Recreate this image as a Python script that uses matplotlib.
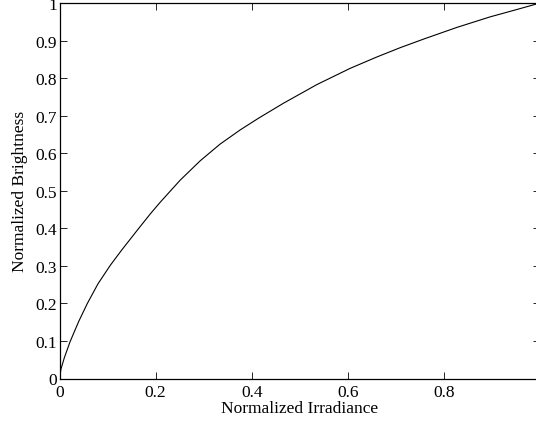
import matplotlib
matplotlib.use("Agg")
import matplotlib.pyplot as plt

irradiance = [0.0, 0.003, 0.01, 0.022, 0.04, 0.058, 0.08, 0.106, 0.13, 0.165, 0.19,
              0.21, 0.251, 0.293, 0.334, 0.376, 0.414, 0.466, 0.536, 0.605, 0.66,
              0.709, 0.758, 0.827, 0.896, 0.95, 1.0]
brightness = [0.0, 0.025, 0.055, 0.098, 0.152, 0.20, 0.252, 0.302, 0.343, 0.40, 0.44,
              0.47, 0.528, 0.58, 0.624, 0.662, 0.693, 0.733, 0.783, 0.826, 0.856,
              0.881, 0.904, 0.935, 0.963, 0.982, 1.0]
xticks = [0, 0.2, 0.4, 0.6, 0.8]
xticklabels = ["0", "0.2", "0.4", "0.6", "0.8"]
yticks = [0, 0.1, 0.2, 0.3, 0.4, 0.5, 0.6, 0.7, 0.8, 0.9, 1.0]
yticklabels = ["0", "0.1", "0.2", "0.3", "0.4", "0.5", "0.6", "0.7", "0.8", "0.9", "1"]

plt.rcParams['font.family'] = ['Liberation Serif', 'DejaVu Serif']

fig = plt.figure(figsize=(5.36, 4.27), dpi=100)
ax = fig.add_axes([59.5/536, 1 - 379.5/427, 480.5/536, 375.5/427])
ax.plot(irradiance, brightness, color='black', linewidth=0.8)
ax.set_xlim(0, 1)
ax.set_ylim(0, 1)
ax.set_xticks(xticks)
ax.set_xticklabels(xticklabels)
ax.set_yticks(yticks)
ax.set_yticklabels(yticklabels)
ax.tick_params(direction='in', top=True, right=True, length=5, width=0.6,
               labelsize=12.5, pad=2)
ax.tick_params(axis='x', pad=4)
for s in ax.spines.values():
    s.set_linewidth(0.9)
ax.set_xlabel("Normalized Irradiance", fontsize=12.5, labelpad=0)
ax.set_ylabel("Normalized Brightness", fontsize=12.5, labelpad=5)
fig.savefig("out.png", dpi=100)
